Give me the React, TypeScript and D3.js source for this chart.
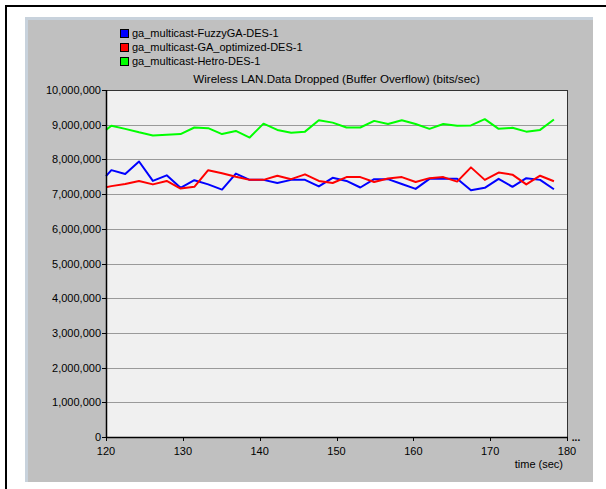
import React from "react";
import * as d3 from "d3";

const times = [120, 120.7, 122.5, 124.3, 126.1, 127.9, 129.7, 131.5, 133.3, 135.1, 136.9, 138.7, 140.5, 142.3, 144.1, 145.9, 147.7, 149.5, 151.3, 153.1, 154.9, 156.7, 158.5, 160.3, 162.1, 163.9, 165.7, 167.5, 169.3, 171.1, 172.9, 174.7, 176.5, 178.3];

const fuzzyGA = [7.52, 7.69, 7.58, 7.94, 7.38, 7.54, 7.18, 7.40, 7.28, 7.13, 7.59, 7.41, 7.41, 7.32, 7.41, 7.41, 7.22, 7.47, 7.38, 7.19, 7.43, 7.43, 7.29, 7.15, 7.44, 7.44, 7.44, 7.11, 7.18, 7.44, 7.21, 7.46, 7.41, 7.14].map((v) => v * 1e6);

const gaOptimized = [7.20, 7.23, 7.29, 7.38, 7.28, 7.38, 7.16, 7.21, 7.69, 7.60, 7.50, 7.41, 7.41, 7.53, 7.43, 7.57, 7.38, 7.32, 7.49, 7.49, 7.35, 7.45, 7.49, 7.35, 7.46, 7.49, 7.36, 7.77, 7.41, 7.62, 7.56, 7.28, 7.53, 7.37].map((v) => v * 1e6);

const hetro = [8.85, 8.97, 8.88, 8.78, 8.69, 8.71, 8.73, 8.92, 8.90, 8.73, 8.82, 8.63, 9.03, 8.85, 8.77, 8.80, 9.13, 9.06, 8.92, 8.92, 9.11, 9.02, 9.13, 9.02, 8.88, 9.02, 8.97, 8.98, 9.16, 8.88, 8.91, 8.80, 8.85, 9.15].map((v) => v * 1e6);

const seriesNames = ["ga_multicast-FuzzyGA-DES-1", "ga_multicast-GA_optimized-DES-1", "ga_multicast-Hetro-DES-1"];
const seriesColors = ["#0000ff", "#ff0000", "#00ff00"];
const seriesValues = [fuzzyGA, gaOptimized, hetro];

const xTicks = [120, 130, 140, 150, 160, 170, 180];
const yTicks = [0, 1e6, 2e6, 3e6, 4e6, 5e6, 6e6, 7e6, 8e6, 9e6, 10e6];

const title = "Wireless LAN.Data Dropped (Buffer Overflow) (bits/sec)";
const xLabel = "time (sec)";

export default function App() {
  const W = 606;
  const H = 489;
  const left = 106;
  const right = 567;
  const top = 90;
  const bottom = 437;
  const x = d3.scaleLinear().domain([120, 180]).range([left, right]);
  const y = d3.scaleLinear().domain([0, 10e6]).range([bottom, top]);
  const fmt = d3.format(",");
  const line = d3
    .line<number>()
    .x((_, i) => x(times[i]))
    .y((d) => y(d));
  const font = "'Liberation Sans', Arial, sans-serif";

  return (
    <svg
      width={W}
      height={H}
      style={{ position: "absolute", left: 0, top: 0 }}
      fontFamily={font}
    >
      <rect x={0} y={0} width={W} height={H} fill="#ffffff" />
      {/* outer black frame */}
      <rect x={6} y={6} width={W + 20} height={H + 20} fill="none" stroke="#000" strokeWidth={2} />
      {/* gray panel */}
      <rect x={25} y={17} width={568} height={465} fill="#c8d2dc" />
      <rect x={28} y={20} width={565} height={462} fill="#c0c0c0" />

      {/* legend */}
      {seriesNames.map((name, i) => (
        <g key={name} transform={`translate(120, ${29 + i * 14})`}>
          <rect x={0.5} y={0.5} width={8} height={8} fill={seriesColors[i]} stroke="#000" strokeWidth={1} />
          <text x={12} y={8} fontSize={11} fill="#000">
            {name}
          </text>
        </g>
      ))}

      {/* title */}
      <text x={(left + right) / 2} y={83} fontSize={11.6} textAnchor="middle" fill="#000">
        {title}
      </text>

      {/* plot area */}
      <rect x={left} y={top} width={right - left} height={bottom - top} fill="#f0f0f0" />
      {yTicks.slice(1, -1).map((t) => (
        <line key={t} x1={left} x2={right} y1={Math.round(y(t)) + 0.5} y2={Math.round(y(t)) + 0.5} stroke="#9a9a9a" strokeWidth={1.2} />
      ))}

      {/* series */}
      {seriesValues.map((vals, i) => (
        <path key={i} d={line(vals) || ""} fill="none" stroke={seriesColors[i]} strokeWidth={2} strokeLinejoin="round" />
      ))}

      {/* plot border */}
      <rect x={left + 0.5} y={top + 0.5} width={right - left} height={bottom - top} fill="none" stroke="#333" strokeWidth={1} />
      <line x1={left + 0.5} x2={left + 0.5} y1={top} y2={bottom + 1} stroke="#000" strokeWidth={1.5} />
      <line x1={left} x2={right + 1} y1={bottom + 0.5} y2={bottom + 0.5} stroke="#000" strokeWidth={1.5} />

      {/* y axis */}
      {yTicks.map((t) => (
        <g key={t}>
          <line x1={left - 4} x2={left} y1={Math.round(y(t)) + 0.5} y2={Math.round(y(t)) + 0.5} stroke="#000" />
          <text x={left - 5} y={y(t) + 4} fontSize={11} textAnchor="end" fill="#000">
            {fmt(t)}
          </text>
        </g>
      ))}

      {/* x axis */}
      {xTicks.map((t) => (
        <g key={t}>
          <line x1={Math.round(x(t)) + 0.5} x2={Math.round(x(t)) + 0.5} y1={bottom} y2={bottom + 4} stroke="#000" />
          <text x={x(t)} y={bottom + 18} fontSize={11} textAnchor="middle" fill="#000">
            {t}
          </text>
        </g>
      ))}
      <text x={right + 9} y={bottom + 4} fontSize={10} fontWeight="bold" textAnchor="middle" fill="#000">
        ...
      </text>
      <text x={563} y={468} fontSize={11} textAnchor="end" fill="#000">
        {xLabel}
      </text>
    </svg>
  );
}
